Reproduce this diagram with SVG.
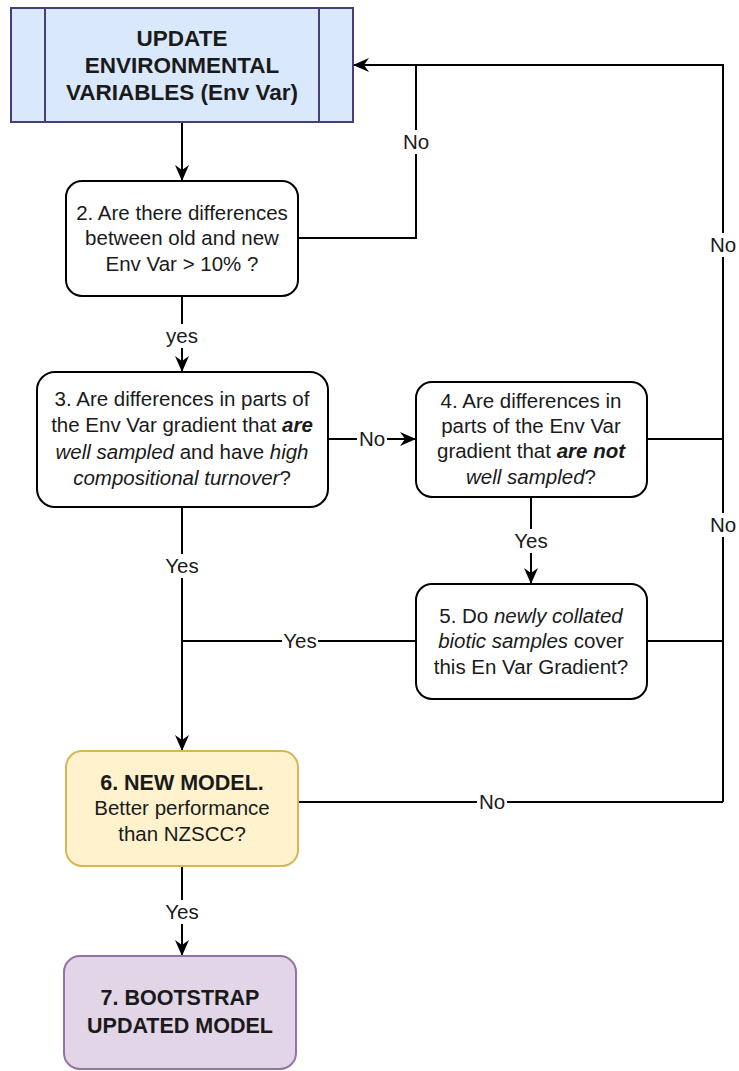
<svg xmlns="http://www.w3.org/2000/svg" width="739" height="1071" viewBox="0 0 739 1071">
<style>
text{font-family:"Liberation Sans",Arial,sans-serif;font-size:20.5px;fill:#1a1a1a;text-anchor:middle}
.b{font-weight:bold}
.i{font-style:italic}
.big{font-size:22.5px}
.bb{font-size:21.5px}
.box{fill:#fff;stroke:#000;stroke-width:2}
.con{fill:none;stroke:#000;stroke-width:2}
.lbl{fill:#fff}
</style>
<defs>
<marker id="arr" markerUnits="userSpaceOnUse" markerWidth="16" markerHeight="14" refX="16" refY="7" orient="auto">
<path d="M0,0 L16,7 L0,14 L5,7 Z" fill="#000"/>
</marker>
</defs>
<rect width="739" height="1071" fill="#fff"/>
<g id="connectors">
<path class="con" d="M182,122 V181" marker-end="url(#arr)"/>
<path class="con" d="M298,238 H416 V65"/>
<path class="con" d="M723,802 V65 H353" marker-end="url(#arr)"/>
<path class="con" d="M182,296 V372" marker-end="url(#arr)"/>
<path class="con" d="M328,439 H416" marker-end="url(#arr)"/>
<path class="con" d="M647,439 H723"/>
<path class="con" d="M531,497 V584" marker-end="url(#arr)"/>
<path class="con" d="M647,641 H723"/>
<path class="con" d="M182,507 V751" marker-end="url(#arr)"/>
<path class="con" d="M416,641 H182"/>
<path class="con" d="M298,802 H723"/>
<path class="con" d="M182,866 V956" marker-end="url(#arr)"/>
<g id="labels">
<rect class="lbl" x="401" y="130" width="30" height="24"/><text x="416" y="149">No</text>
<rect class="lbl" x="708" y="233" width="30" height="24"/><text x="723" y="252">No</text>
<rect class="lbl" x="708" y="513" width="30" height="24"/><text x="723" y="532">No</text>
<rect class="lbl" x="477" y="790" width="30" height="24"/><text x="492" y="809">No</text>
<rect class="lbl" x="357" y="427" width="30" height="24"/><text x="372" y="446">No</text>
<rect class="lbl" x="166" y="324" width="32" height="24"/><text x="182" y="343">yes</text>
<rect class="lbl" x="164" y="554" width="36" height="24"/><text x="182" y="573">Yes</text>
<rect class="lbl" x="513" y="529" width="36" height="24"/><text x="531" y="548">Yes</text>
<rect class="lbl" x="282" y="629" width="36" height="24"/><text x="300" y="648">Yes</text>
<rect class="lbl" x="164" y="900" width="36" height="24"/><text x="182" y="919">Yes</text>
</g>
</g>
<g id="n1">
<rect x="11" y="8" width="342" height="114" fill="#dae8fc" stroke="#463f7a" stroke-width="2"/>
<path d="M45,8 V122 M319,8 V122" stroke="#463f7a" stroke-width="2"/>
<text class="b big" x="182" y="46">UPDATE</text>
<text class="b big" x="182" y="73">ENVIRONMENTAL</text>
<text class="b big" x="182" y="100">VARIABLES (Env Var)</text>
</g>
<g id="n2">
<rect class="box" x="66" y="181" width="232" height="115" rx="16"/>
<text x="182" y="220">2. Are there differences</text>
<text x="182" y="245">between old and new</text>
<text x="182" y="271">Env Var &gt; 10% ?</text>
</g>
<g id="n3">
<rect class="box" x="37" y="372" width="291" height="135" rx="18"/>
<text x="182" y="406">3. Are differences in parts of</text>
<text x="182" y="432">the Env Var gradient that <tspan class="b i">are</tspan></text>
<text x="182" y="459"><tspan class="i">well sampled</tspan> and have <tspan class="i">high</tspan></text>
<text x="182" y="485"><tspan class="i">compositional turnover</tspan>?</text>
</g>
<g id="n4">
<rect class="box" x="416" y="382" width="231" height="115" rx="16"/>
<text x="531" y="408">4. Are differences in</text>
<text x="531" y="433">parts of the Env Var</text>
<text x="531" y="458">gradient that <tspan class="b i">are not</tspan></text>
<text x="531" y="484"><tspan class="i">well sampled</tspan>?</text>
</g>
<g id="n5">
<rect class="box" x="416" y="584" width="231" height="115" rx="16"/>
<text x="531" y="623"><tspan>5. Do </tspan><tspan class="i">newly collated</tspan></text>
<text x="531" y="648"><tspan class="i">biotic samples</tspan> cover</text>
<text x="531" y="674">this En Var Gradient?</text>
</g>
<g id="n6">
<rect x="66" y="751" width="232" height="115" rx="16" fill="#fff2cc" stroke="#d6b656" stroke-width="2"/>
<text class="b bb" x="182" y="790">6. NEW MODEL.</text>
<text x="182" y="815">Better performance</text>
<text x="182" y="841">than NZSCC?</text>
</g>
<g id="n7">
<rect x="64" y="956" width="232" height="113" rx="16" fill="#e1d5e7" stroke="#9673a6" stroke-width="2"/>
<text class="b bb" x="180" y="1005">7. BOOTSTRAP</text>
<text class="b bb" x="180" y="1033">UPDATED MODEL</text>
</g>
</svg>
